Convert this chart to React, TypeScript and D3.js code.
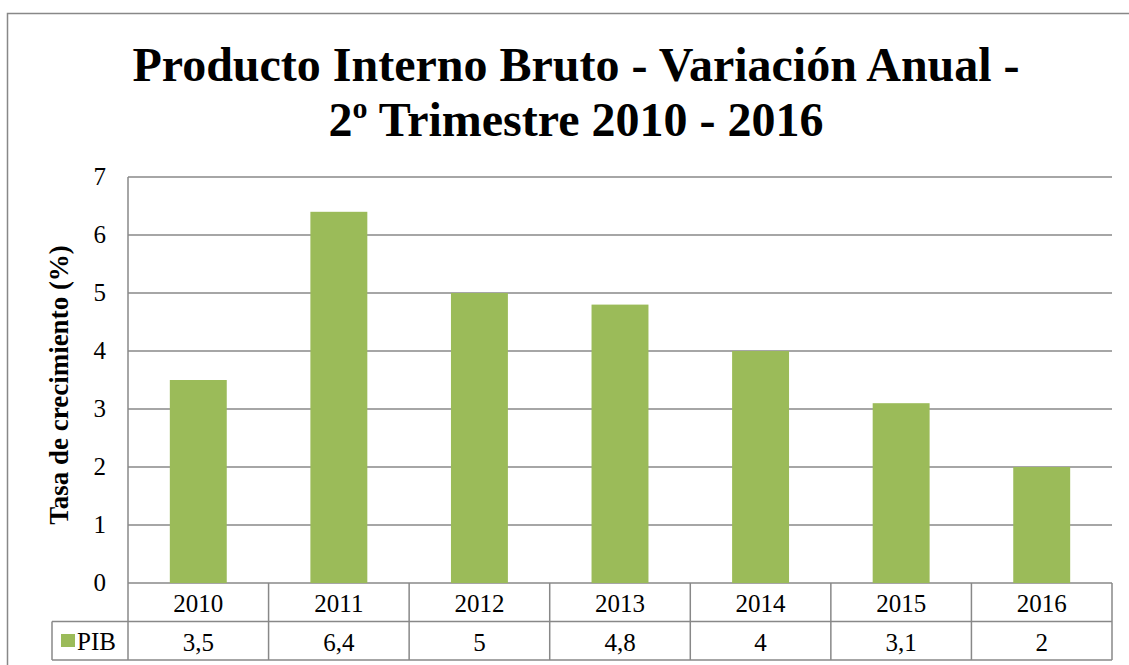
import React from 'react';
import * as d3 from 'd3';

const years = ['2010', '2011', '2012', '2013', '2014', '2015', '2016'];
const pib = [3.5, 6.4, 5, 4.8, 4, 3.1, 2];
const pibLabels = ['3,5', '6,4', '5', '4,8', '4', '3,1', '2'];
const yTicks = [0, 1, 2, 3, 4, 5, 6, 7];
const seriesName = 'PIB';
const titleLine1 = 'Producto Interno Bruto - Variación Anual -';
const titleLine2 = ' Trimestre 2010 - 2016';
const yTitle = 'Tasa de crecimiento (%)';

const W = 1129;
const H = 665;
const plot = { left: 128, right: 1112, top: 177, bottom: 583 };
const rowH = 38.5;
const legendLeft = 52;
const grid = '#888888';
const barColor = '#9BBB59';
const font = 'Liberation Serif, serif';

export default function App() {
  const x = d3.scaleBand().domain(years).range([plot.left, plot.right]).paddingInner(0).paddingOuter(0);
  const y = d3.scaleLinear().domain([0, 7]).range([plot.bottom, plot.top]);
  const bw = x.bandwidth() * 0.405;
  const row1 = plot.bottom + rowH;
  const row2 = row1 + rowH;

  return (
    <svg width={W} height={H} style={{ position: 'absolute', left: 0, top: 0, fontFamily: font }}>
      <rect x={0} y={0} width={W} height={H} fill="#fff" />
      <rect x={7.5} y={13.5} width={W + 20} height={H + 20} fill="none" stroke={grid} strokeWidth={1.5} />

      <text x={576} y={81} textAnchor="middle" fontSize={48} fontWeight="bold" fill="#000">{titleLine1}</text>
      <text x={576} y={136} textAnchor="middle" fontSize={48} fontWeight="bold" fill="#000">
        2<tspan dy={-18} fontSize={30}>o</tspan>
        <tspan dy={18}>{titleLine2}</tspan>
      </text>

      {yTicks.map(t => (
        <g key={t}>
          <line x1={plot.left} x2={plot.right} y1={y(t)} y2={y(t)} stroke={grid} strokeWidth={1.5} />
          <text x={106} y={y(t) + 8} textAnchor="end" fontSize={25} fill="#000">{t}</text>
        </g>
      ))}
      <line x1={plot.left} x2={plot.left} y1={plot.top} y2={plot.bottom} stroke={grid} strokeWidth={1.5} />

      <text transform={`translate(68,${385}) rotate(-90)`} textAnchor="middle"
        fontSize={27} fontWeight="bold" fill="#000">{yTitle}</text>

      {pib.map((v, i) => (
        <rect key={years[i]} x={(x(years[i]) ?? 0) + x.bandwidth() / 2 - bw / 2} y={y(v)} width={bw}
          height={y(0) - y(v)} fill={barColor} />
      ))}

      {/* data table */}
      <line x1={legendLeft} x2={plot.right} y1={row1} y2={row1} stroke={grid} strokeWidth={1.5} />
      <line x1={legendLeft} x2={plot.right} y1={row2} y2={row2} stroke={grid} strokeWidth={1.5} />
      <line x1={legendLeft} x2={legendLeft} y1={row1} y2={row2} stroke={grid} strokeWidth={1.5} />
      {years.map(yr => (
        <line key={yr} x1={x(yr)} x2={x(yr)} y1={plot.bottom} y2={row2} stroke={grid} strokeWidth={1.5} />
      ))}
      <line x1={plot.right} x2={plot.right} y1={plot.bottom} y2={row2} stroke={grid} strokeWidth={1.5} />

      {years.map((yr, i) => (
        <g key={yr}>
          <text x={(x(yr) ?? 0) + x.bandwidth() / 2} y={plot.bottom + 29} textAnchor="middle" fontSize={25} fill="#000">{yr}</text>
          <text x={(x(yr) ?? 0) + x.bandwidth() / 2} y={row1 + 29} textAnchor="middle" fontSize={25} fill="#000">{pibLabels[i]}</text>
        </g>
      ))}
      <rect x={61} y={634} width={14} height={13} fill={barColor} />
      <text x={77} y={row1 + 28} fontSize={25} fill="#000">{seriesName}</text>
    </svg>
  );
}
